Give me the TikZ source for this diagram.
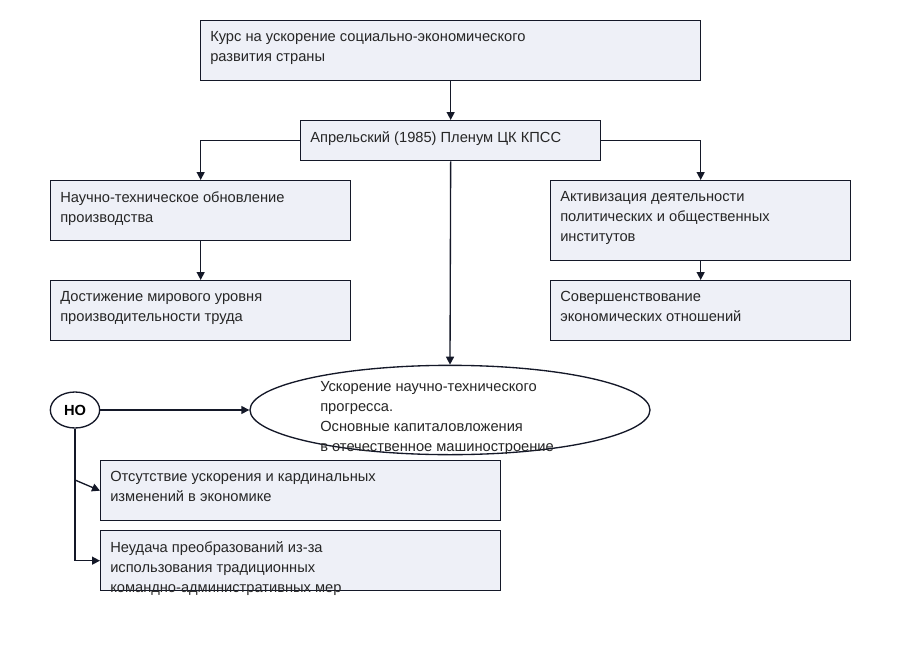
\documentclass[tikz,border=0pt]{standalone}
\usepackage{fontspec}
\setmainfont{Liberation Sans}
\usetikzlibrary{arrows.meta,shapes.geometric}
\definecolor{boxfill}{RGB}{238,240,247}
\definecolor{edge}{RGB}{20,24,40}
\tikzset{
  box/.style={draw=edge,line width=1pt,fill=boxfill,anchor=north west,inner sep=0pt},
  txt/.style={anchor=north west,inner sep=0pt,align=left,font=\fontsize{11}{15}\selectfont,text=black!85},
  arr/.style={draw=edge,line width=1pt,-{Triangle[length=6pt,width=6pt]}},
  ln/.style={draw=edge,line width=1pt}
}
\begin{document}
\begin{tikzpicture}[x=0.75pt,y=0.75pt,yscale=-1,xscale=1]
\useasboundingbox (0,0) rectangle (900,650);

% Boxes
\node [box,minimum width=375pt,minimum height=45pt] (kurs) at (200,20) {};
\node [box,minimum width=225pt,minimum height=30pt] (plenum) at (300,120) {};
\node [box,minimum width=225pt,minimum height=45pt] (nto) at (50,180) {};
\node [box,minimum width=225pt,minimum height=45pt] (dost) at (50,280) {};
\node [box,minimum width=225pt,minimum height=60pt] (aktiv) at (550,180) {};
\node [box,minimum width=225pt,minimum height=45pt] (sover) at (550,280) {};
\node [draw=edge,line width=1pt,fill=white,ellipse,minimum width=300pt,minimum height=67pt,inner sep=0pt] (uskor) at (450,410) {};
\node [draw=edge,line width=1pt,fill=white,ellipse,minimum width=37pt,minimum height=27pt,inner sep=0pt,font=\fontsize{11}{13}\selectfont\bfseries] (no) at (75,410) {НО};
\node [box,minimum width=300pt,minimum height=45pt] (otsut) at (100,460) {};
\node [box,minimum width=300pt,minimum height=45pt] (neud) at (100,530) {};

% Text Node
\node [txt] at (210,31) {Курс на ускорение социально-экономического\\развития страны};
\node [txt] at (310,131) {Апрельский (1985) Пленум ЦК КПСС};
\node [txt] at (60,191) {Научно-техническое обновление\\производства};
\node [txt] at (60,291) {Достижение мирового уровня\\производительности труда};
\node [txt] at (560,191) {Активизация деятельности\\политических и общественных\\институтов};
\node [txt] at (560,291) {Совершенствование\\экономических отношений};
\node [txt] at (320,381) {Ускорение научно-технического\\прогресса.\\Основные капиталовложения\\в отечественное машиностроение};
\node [txt] at (110,471) {Отсутствие ускорения и кардинальных\\изменений в экономике};
\node [txt] at (110,541) {Неудача преобразований из-за\\использования традиционных\\командно-административных мер};

% Connectors
\draw [arr] (kurs.south) -- (plenum.north);
\draw [arr] (plenum.west) -| (nto.north);
\draw [arr] (plenum.east) -| (aktiv.north);
\draw [arr] (plenum.south) -- (uskor.north);
\draw [arr] (nto.south) -- (dost.north);
\draw [arr] (aktiv.south) -- (sover.north);
\draw [arr] (no.east) -- (uskor.west);
\draw [arr] (no.south) |- (neud.west);
\draw [arr] (75,480) -- (otsut.west);

\end{tikzpicture}
\end{document}
